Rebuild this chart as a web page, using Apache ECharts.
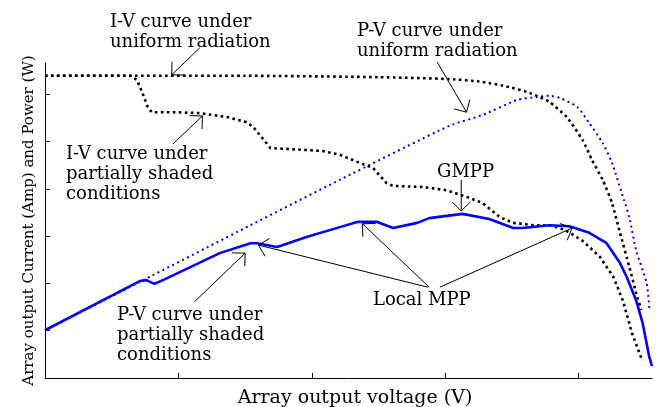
<!DOCTYPE html>
<html>
<head>
<meta charset="utf-8">
<script src="https://cdn.jsdelivr.net/npm/echarts@6/dist/echarts.min.js"></script>
<style>
  html, body { margin: 0; padding: 0; background: #fff; }
  #chart { width: 657px; height: 407px; }
</style>
</head>
<body>
<div id="chart"></div>
<script>
// curves: [voltage, value] in axis units (tick = 10)
const ivUniform = [[0, 63.9], [15, 63.9], [25, 63.6], [30.3, 63.2], [32.8, 62.6], [34.8, 61.5],
  [36.1, 60.5], [36.9, 59.6], [37.8, 58.4], [39.1, 55.2], [40.3, 50.3], [41.0, 46.1], [41.8, 41.9],
  [42.5, 37.0], [43.1, 30.7], [43.8, 23.5], [44.4, 17.1], [44.7, 14.4]];

const ivShaded = [[0, 63.9], [6.4, 63.9], [6.9, 63.0], [7.3, 60.3], [7.7, 57.3], [8.0, 56.2],
  [9.6, 56.2], [11.6, 56.0], [13.6, 55.2], [15.1, 54.1], [15.6, 53.1], [16.3, 50.7], [16.9, 48.6],
  [18.4, 48.4], [20.8, 48.0], [22.1, 47.2], [23.4, 45.7], [24.6, 44.4], [25.6, 41.2], [26.1, 40.6],
  [28.3, 40.4], [30.1, 39.7], [31.6, 38.3], [32.8, 37.0], [34.1, 34.0], [35.1, 32.8], [36.6, 32.3],
  [37.8, 32.3], [38.6, 31.7], [39.3, 30.8], [40.3, 29.0], [41.6, 25.6], [42.6, 21.4], [43.3, 16.5],
  [44.0, 9.5], [44.7, 4.2]];

const pvUniform = [[0, 10.1], [7.1, 20.3], [15.4, 32.3], [22.1, 41.9], [30.3, 53.3], [32.8, 55.6],
  [35.4, 58.8], [36.9, 59.4], [37.8, 59.7], [38.6, 59.2], [39.9, 57.3], [40.8, 53.9], [41.8, 49.7],
  [42.5, 45.5], [43.4, 37.6], [43.8, 34.0], [44.3, 27.1], [45.1, 20.1], [45.3, 14.8]];

const pvShaded = [[0, 10.1], [7.1, 20.5], [7.6, 20.7], [8.2, 19.9], [9.0, 20.9], [13.1, 26.4],
  [15.4, 28.5], [15.9, 28.5], [17.4, 27.7], [19.6, 29.8], [22.1, 31.9], [23.4, 33.0], [24.9, 33.0],
  [26.1, 31.7], [27.9, 32.8], [28.8, 33.8], [31.3, 34.7], [33.3, 33.6], [35.1, 31.7], [35.8, 31.7],
  [37.8, 32.3], [39.3, 32.1], [40.8, 30.7], [42.1, 28.5], [43.1, 24.3], [43.6, 21.4], [44.3, 16.5],
  [44.8, 11.6], [45.3, 4.4], [45.5, 2.5]];

// annotation arrows: [x tail, y tail, x head, y head] in data units
const arrows = [
  [11.6, 69.8, 9.5, 64.1],
  [9.6, 49.5, 11.8, 55.4],
  [29.4, 66.8, 31.6, 56.2],
  [31.2, 41.9, 31.2, 35.3],
  [11.2, 16.1, 15.0, 26.4],
  [28.7, 19.2, 16.0, 28.1],
  [28.8, 19.2, 23.8, 32.6],
  [29.6, 19.2, 39.5, 31.7]
];

const xTicks = [10, 20, 30, 40];
const yTicks = [10, 20, 30, 40, 50, 60];

const FONT = '"DejaVu Serif", "Liberation Serif", serif';

const chart = echarts.init(document.getElementById('chart'));

function note(text, x, y) {
  return {
    type: 'text', left: x, top: y,
    style: { text: text, font: '18px ' + FONT, lineHeight: 20, fill: '#000' }
  };
}

chart.setOption({
  animation: false,
  grid: { left: 45, right: 5, top: 63, bottom: 29, outerBoundsMode: 'none', containLabel: false },
  xAxis: {
    type: 'value', min: 0, max: 45.5,
    name: 'Array output voltage (V)', nameLocation: 'middle', nameGap: 11,
    nameTextStyle: { fontFamily: FONT, fontSize: 19, color: '#000', padding: [0, 0, 0, 13] },
    axisLine: { lineStyle: { color: '#000', width: 1 } },
    axisTick: { inside: true, length: 5, customValues: xTicks, lineStyle: { color: '#000' } },
    axisLabel: { show: false },
    splitLine: { show: false }
  },
  yAxis: {
    type: 'value', min: 0, max: 66.6,
    name: 'Array output Current (Amp) and Power (W)', nameLocation: 'middle', nameGap: 8,
    nameTextStyle: { fontFamily: FONT, fontSize: 15, color: '#000' },
    axisLine: { show: true, lineStyle: { color: '#000', width: 1 } },
    axisTick: { show: true, inside: true, length: 5, customValues: yTicks, lineStyle: { color: '#000' } },
    axisLabel: { show: false },
    splitLine: { show: false }
  },
  graphic: [
    note('I-V curve under\nuniform radiation', 110, 12),
    note('P-V curve under\nuniform radiation', 357, 21),
    note('I-V curve under\npartially shaded\nconditions', 66, 144),
    note('GMPP', 437, 162),
    note('P-V curve under\npartially shaded\nconditions', 117, 305),
    note('Local MPP', 373, 290)
  ],
  series: [
    {
      name: 'I-V uniform', type: 'line', data: ivUniform, showSymbol: false, smooth: 0.2,
      lineStyle: { color: '#000', width: 2.6, type: [2.6, 3.4] }, z: 3
    },
    {
      name: 'I-V shaded', type: 'line', data: ivShaded, showSymbol: false,
      lineStyle: { color: '#000', width: 2.6, type: [2.6, 3.4] }, z: 3
    },
    {
      name: 'P-V uniform', type: 'line', data: pvUniform, showSymbol: false, smooth: 0.2,
      lineStyle: { color: '#0000ff', width: 2, type: [2, 3.5] }, z: 2
    },
    {
      name: 'P-V shaded', type: 'line', data: pvShaded, showSymbol: false,
      lineStyle: { color: '#0000ff', width: 2.6 }, z: 4
    },
    {
      name: 'arrows', type: 'custom', data: arrows, clip: false, silent: true, z: 5,
      encode: { x: [0, 2], y: [1, 3] },
      renderItem: function (params, api) {
        const p1 = api.coord([api.value(0), api.value(1)]);
        const p2 = api.coord([api.value(2), api.value(3)]);
        const ang = Math.atan2(p1[1] - p2[1], p1[0] - p2[0]);
        const len = 13, spread = Math.PI / 4;
        const a1 = [p2[0] + len * Math.cos(ang - spread), p2[1] + len * Math.sin(ang - spread)];
        const a2 = [p2[0] + len * Math.cos(ang + spread), p2[1] + len * Math.sin(ang + spread)];
        const st = { stroke: '#000', lineWidth: 1, fill: null };
        return {
          type: 'group',
          children: [
            { type: 'line', shape: { x1: p1[0], y1: p1[1], x2: p2[0], y2: p2[1] }, style: st },
            { type: 'polyline', shape: { points: [a1, p2, a2] }, style: st }
          ]
        };
      }
    }
  ]
});
</script>
</body>
</html>
